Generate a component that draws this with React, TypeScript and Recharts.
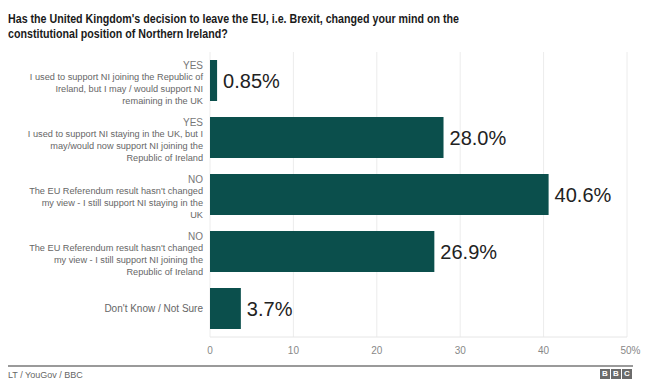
import React from "react";
import { BarChart, Bar, XAxis, YAxis, CartesianGrid, LabelList } from "recharts";

const categories = ["yesToUK", "yesToROI", "noStayUK", "noJoinROI", "dontKnow"];
const answerHeads = ["YES", "YES", "NO", "NO", ""];
const answerLines = [
  ["I used to support NI joining the Republic of", "Ireland, but I may / would support NI", "remaining in the UK"],
  ["I used to support NI staying in the UK, but I", "may/would now support NI joining the", "Republic of Ireland"],
  ["The EU Referendum result hasn't changed", "my view - I still support NI staying in the", "UK"],
  ["The EU Referendum result hasn't changed", "my view - I still support NI joining the", "Republic of Ireland"],
  ["Don't Know / Not Sure"],
];
const percentages = [0.85, 28.0, 40.6, 26.9, 3.7];
const valueLabels = ["0.85%", "28.0%", "40.6%", "26.9%", "3.7%"];
const xTicks = [0, 10, 20, 30, 40, 50];

const titleLines = [
  "Has the United Kingdom's decision to leave the EU, i.e. Brexit, changed your mind on the",
  "constitutional position of Northern Ireland?",
];
const sourceText = "LT / YouGov / BBC";

const data = categories.map((c, i) => ({
  key: c,
  value: percentages[i],
  label: valueLabels[i],
}));

const FONT = "'Liberation Sans', Arial, Helvetica, sans-serif";

const YTick = (props: any) => {
  const { x, y, payload } = props;
  const i = categories.indexOf(payload.value);
  const head = answerHeads[i];
  const lines = answerLines[i];
  const tx = x + 1;
  if (!head) {
    return (
      <text x={tx} y={y} dy={3.5} textAnchor="end" fontSize={10} fill="#666" fontFamily={FONT}>
        {lines[0]}
      </text>
    );
  }
  const start = y - 15;
  return (
    <g>
      <text x={tx} y={start} dy={3.5} textAnchor="end" fontSize={10} fill="#777" fontFamily={FONT}>
        {head}
      </text>
      {lines.map((l, k) => (
        <text key={k} x={tx} y={start + 11.7 * (k + 1)} dy={3.2} textAnchor="end" fontSize={9.2} fill="#666" fontFamily={FONT}>
          {l}
        </text>
      ))}
    </g>
  );
};

const XTick = (props: any) => {
  const { x, y, payload } = props;
  const v = payload.value;
  const last = v === xTicks[xTicks.length - 1];
  return (
    <text x={last ? x - 6.5 : x} y={y + 9} textAnchor={last ? "start" : "middle"} fontSize={10} fill="#888" fontFamily={FONT}>
      {last ? `${v}%` : `${v}`}
    </text>
  );
};

export default function App() {
  return (
    <div style={{ position: "absolute", left: 0, top: 0, width: 650, height: 392, background: "#fff", fontFamily: FONT }}>
      <div
        style={{
          position: "absolute",
          left: 8,
          top: 11,
          fontSize: 13,
          fontWeight: "bold",
          color: "#1a1a1a",
          lineHeight: "15px",
          whiteSpace: "nowrap",
          transform: "scaleX(0.82)",
          transformOrigin: "0 0",
        }}
      >
        {titleLines.map((t, i) => (
          <div key={i}>{t}</div>
        ))}
      </div>
      <BarChart
        width={650}
        height={392}
        data={data}
        layout="vertical"
        margin={{ top: 52, right: 23, left: 0, bottom: 35 }}
        barCategoryGap={8}
      >
        <CartesianGrid horizontal={false} stroke="#ececec" />
        <XAxis
          type="number"
          domain={[0, 50]}
          ticks={xTicks}
          tickLine={false}
          axisLine={{ stroke: "#e6e6e6" }}
          tick={<XTick />}
          height={20}
          interval={0}
        />
        <YAxis
          type="category"
          dataKey="key"
          width={210}
          tickLine={false}
          axisLine={false}
          tick={<YTick />}
          interval={0}
        />
        <Bar dataKey="value" fill="#0b4f4c" barSize={41} isAnimationActive={false}>
          <LabelList dataKey="label" position="right" offset={6} fill="#222" fontSize={20} fontFamily={FONT} />
        </Bar>
      </BarChart>
      <div style={{ position: "absolute", left: 8, top: 365, width: 625, height: 2, background: "#9a9a9a" }} />
      <div style={{ position: "absolute", left: 8, top: 370, fontSize: 9, color: "#666" }}>{sourceText}</div>
      <div style={{ position: "absolute", left: 600, top: 369, display: "flex", gap: 1 }}>
        {["B", "B", "C"].map((c, i) => (
          <div key={i} style={{ width: 10, height: 10, background: "#6b6b6b", color: "#fff", fontSize: 8, fontWeight: "bold", lineHeight: "10px", textAlign: "center" }}>
            {c}
          </div>
        ))}
      </div>
    </div>
  );
}
